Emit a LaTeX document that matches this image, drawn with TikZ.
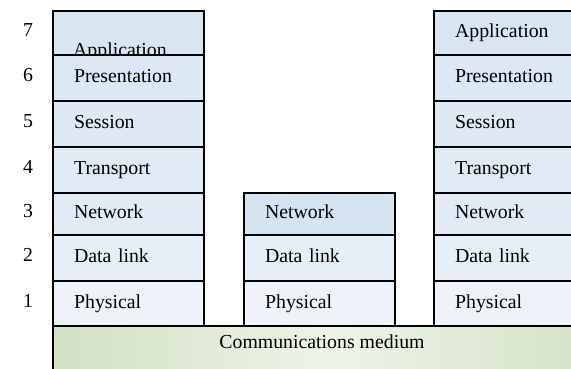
\documentclass[tikz,border=0pt]{standalone}
\usepackage{fontspec}
\setmainfont{Liberation Serif}
\definecolor{cA}{HTML}{D9E6F2}
\definecolor{cB}{HTML}{DCE8F3}
\definecolor{cC}{HTML}{DFE9F4}
\definecolor{cD}{HTML}{E0EAF5}
\definecolor{cE}{HTML}{E2EBF5}
\definecolor{cF}{HTML}{E6EEF7}
\definecolor{cG}{HTML}{EEF3F9}
\definecolor{cN}{HTML}{D6E4F1}
\definecolor{medgreen}{HTML}{D2E1C5}
\definecolor{medlight}{HTML}{EEF3E8}
\begin{document}
\begin{tikzpicture}[x=1pt,y=-1pt,
  font=\fontsize{19.8}{22}\selectfont,
  layer/.style={draw=black, line width=2.2pt, anchor=north west,
    minimum width=151pt, text width=109pt, inner xsep=21pt, inner ysep=0pt,
    align=left, text height=13.5pt, text depth=4pt},
  num/.style={text height=13.5pt, text depth=4pt, inner sep=0pt}]
\useasboundingbox (0,0) rectangle (571,369);
\clip (0,0) rectangle (571,369);
% medium
\node[draw=black, line width=2.2pt, anchor=north west, minimum width=560pt,
  minimum height=70pt, left color=medgreen, right color=medgreen,
  middle color=medlight] (med) at (52,325) {};
\node[num] (medtxt) at (322,344) {Communications medium};
% left stack
\node[layer, fill=cA, minimum height=44pt] (l7) at (52,10) {};
\node[anchor=base west, inner sep=0pt] (l7t) at (73,57) {Application};
\node[layer, fill=cB, minimum height=46pt] (l6) at (52,54) {Presentation};
\node[layer, fill=cC, minimum height=46pt] (l5) at (52,100) {Session};
\node[layer, fill=cD, minimum height=46pt] (l4) at (52,146) {Transport};
\node[layer, fill=cE, minimum height=42pt] (l3) at (52,192) {Network};
\node[layer, fill=cF, minimum height=46pt] (l2) at (52,234) {Data link};
\node[layer, fill=cG, minimum height=45pt] (l1) at (52,280) {Physical};
% middle stack
\node[layer, fill=cN, minimum height=42pt] (m3) at (243,192) {Network};
\node[layer, fill=cF, minimum height=46pt] (m2) at (243,234) {Data link};
\node[layer, fill=cG, minimum height=45pt] (m1) at (243,280) {Physical};
% right stack
\node[layer, fill=cA, minimum height=44pt] (r7) at (433,10) {Application};
\node[layer, fill=cB, minimum height=46pt] (r6) at (433,54) {Presentation};
\node[layer, fill=cC, minimum height=46pt] (r5) at (433,100) {Session};
\node[layer, fill=cD, minimum height=46pt] (r4) at (433,146) {Transport};
\node[layer, fill=cE, minimum height=42pt] (r3) at (433,192) {Network};
\node[layer, fill=cF, minimum height=46pt] (r2) at (433,234) {Data link};
\node[layer, fill=cG, minimum height=45pt] (r1) at (433,280) {Physical};
% layer numbers
\node[num] (n7) at (28,32) {7};
\node[num] (n6) at (28,77) {6};
\node[num] (n5) at (28,123) {5};
\node[num] (n4) at (28,169) {4};
\node[num] (n3) at (28,213) {3};
\node[num] (n2) at (28,257) {2};
\node[num] (n1) at (28,302.5) {1};
\end{tikzpicture}
\end{document}
